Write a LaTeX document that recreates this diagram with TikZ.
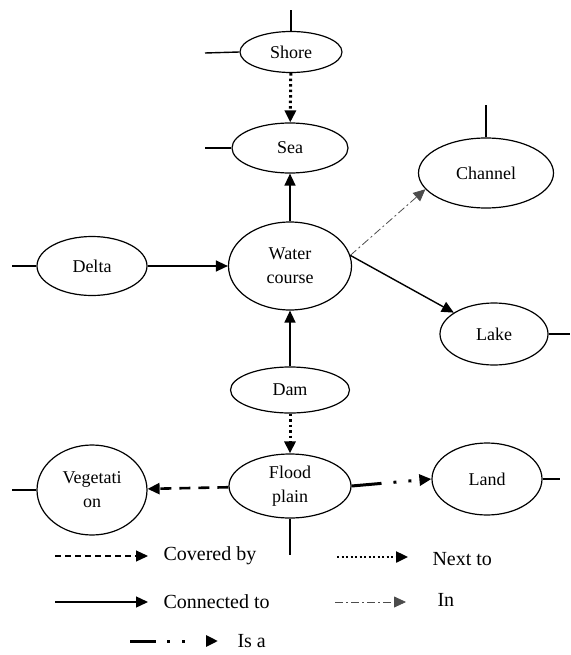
\documentclass[tikz,border=0pt]{standalone}
\usepackage{fontspec}
\setmainfont{Liberation Serif}
\usetikzlibrary{arrows.meta, shapes.geometric, positioning, calc}

\begin{document}
\begin{tikzpicture}[x=1pt,y=-1pt,
    concept/.style={draw,ellipse,line width=1.2pt,inner sep=0pt,align=center,font=\fontsize{18}{24}\selectfont},
    tip/.style={-{Triangle[length=12pt,width=11pt]}},
    connected/.style={tip,line width=1.4pt},
    coveredby/.style={tip,line width=2.6pt,dash pattern=on 11pt off 8pt},
    nextto/.style={tip,line width=3pt,dash pattern=on 2.5pt off 3pt},
    inside/.style={tip,line width=0.8pt,black!70,dash pattern=on 8pt off 3pt on 2pt off 3pt},
    isa/.style={tip,line width=3pt,dash pattern=on 30pt off 12pt on 3pt off 12pt on 3pt off 30pt},
    stub/.style={line width=1.4pt},
    keytext/.style={anchor=west,font=\fontsize{20}{24}\selectfont}]
  \useasboundingbox (0,0) rectangle (570,655);
  % concepts
  \foreach \n/\x/\y/\w/\h/\t in {shore/291/52/102/41/Shore, sea/290/148/116/50/Sea,
      channel/486/173/135/70/Channel, water/290/266/123/88/{Water\\course},
      delta/92/266/110/59/Delta, lake/494/334/108/62/Lake, dam/290/390/119/46/Dam,
      flood/290/486/122/64/{Flood\\plain}, veg/92/490/110/90/{Vegetati\\on},
      land/487/479/110/72/Land}{
    \node[concept,minimum width=\w pt,minimum height=\h pt] (\n) at (\x,\y) {\t};
  }
  % loose ends
  \foreach \n/\a/\x/\y in {shore/north/291/10, shore/west/205/53, sea/west/205/148,
      channel/north/486/105, delta/west/12/266, lake/east/570/334, veg/west/12/490,
      land/east/560/479, flood/south/290/555}{
    \coordinate (\n-end) at (\x,\y);
    \draw[stub] (\n.\a) -- (\n-end);
  }
  % relations
  \draw[nextto] (shore) -- (sea);
  \draw[connected] (water) -- (sea);
  \draw[connected] (delta) -- (water);
  \draw[inside] (water.10) -- (channel.195);
  \draw[connected] (water.10) -- (lake.152);
  \draw[connected] (dam) -- (water);
  \draw[nextto] (dam) -- (flood);
  \draw[coveredby] (flood) -- (veg);
  \draw[isa] (flood.east) -- (land.west);
  % key
  \coordinate (k1) at (55,556);  \coordinate (k1e) at (148,556);
  \coordinate (k2) at (337,557); \coordinate (k2e) at (408,557);
  \coordinate (k3) at (55,602);  \coordinate (k3e) at (148,602);
  \coordinate (k4) at (335,602); \coordinate (k4e) at (406,602);
  \coordinate (k5) at (130,641); \coordinate (k5e) at (218,641);
  \draw[tip,line width=1.2pt,dash pattern=on 6pt off 4pt] (k1) -- (k1e);
  \draw[tip,line width=2.4pt,dash pattern=on 2pt off 2.5pt] (k2) -- (k2e);
  \draw[connected] (k3) -- (k3e);
  \draw[inside] (k4) -- (k4e);
  \draw[tip,line width=3pt,dash pattern=on 26pt off 11pt on 3pt off 12pt on 3pt off 30pt] (k5) -- (k5e);
  \node[keytext] (kcov) at (160,556) {Covered by};
  \node[keytext] (knext) at (429,559) {Next to};
  \node[keytext] (kconn) at (160,602) {Connected to};
  \node[keytext] (kin) at (434,600) {In};
  \node[keytext] (kisa) at (234,641) {Is a};
\end{tikzpicture}
\end{document}
